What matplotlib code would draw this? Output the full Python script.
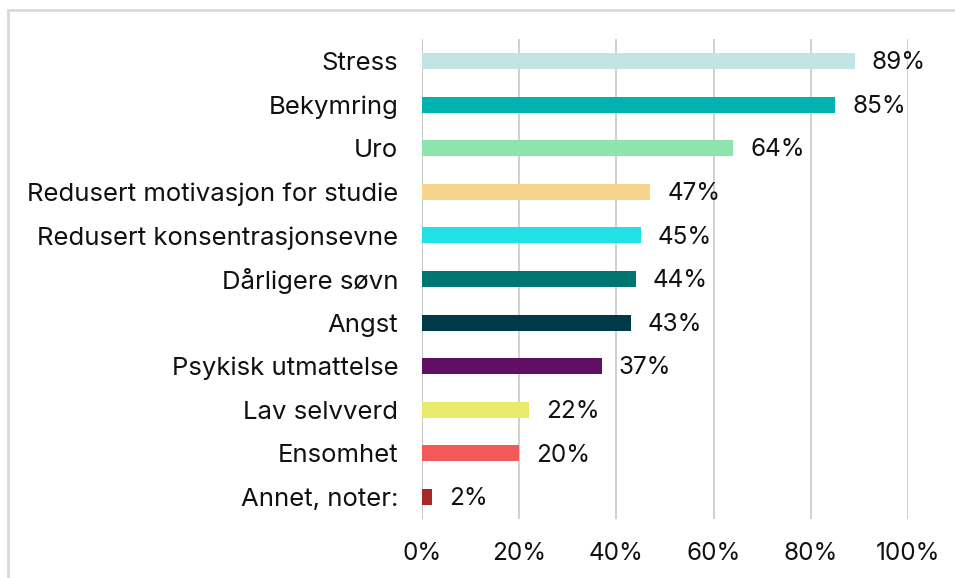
import matplotlib.pyplot as plt
from matplotlib.patches import Rectangle

categories = ["Stress", "Bekymring", "Uro", "Redusert motivasjon for studie",
              "Redusert konsentrasjonsevne", "Dårligere søvn", "Angst",
              "Psykisk utmattelse", "Lav selvverd", "Ensomhet", "Annet, noter:"]
values = [89, 85, 64, 47, 45, 44, 43, 37, 22, 20, 2]
colors = ["#c3e4e4", "#00b3b2", "#8de4ac", "#f6d48a", "#22e1e4", "#007572",
          "#003a48", "#5f1065", "#e9e96c", "#f25a5a", "#a6282c"]
xticks = [0, 20, 40, 60, 80, 100]

plt.rcParams['font.family'] = ['Inter', 'DejaVu Sans']

fig = plt.figure(figsize=(9.55, 5.78), dpi=100)
# light frame around the chart area
fig.patches.append(Rectangle((8 / 955, -0.1), 1.2, 1 - 10 / 578 + 0.1,
                             transform=fig.transFigure, fill=False,
                             edgecolor="#d9d9d9", linewidth=2))

ax = fig.add_axes([422 / 955, 1 - 518.8 / 578, 486 / 955, 479.6 / 578])
y = list(range(len(categories)))
ax.barh(y, values, height=0.37, color=colors, zorder=3)
ax.set_ylim(len(categories) - 0.5, -0.5)
ax.set_xlim(0, 100)

for yi, v in zip(y, values):
    ax.text(v + 3.5, yi + 0.04, f"{v}%", va="center", ha="left", fontsize=17.5, color="#111111")

ax.set_yticks(y)
ax.set_yticklabels(categories, fontsize=18.5, color="#111111")
ax.set_xticks(xticks)
ax.set_xticklabels([f"{t}%" for t in xticks], fontsize=17.5, color="#111111")
ax.tick_params(axis="y", length=0, pad=17)
ax.tick_params(axis="x", length=0, pad=17)
ax.grid(axis="x", color="#c8c8c8", linewidth=1.2, zorder=0)
for s in ax.spines.values():
    s.set_visible(False)
ax.axvline(0, color="#c8c8c8", linewidth=1.2, zorder=1)

fig.savefig("out.png", dpi=100)
